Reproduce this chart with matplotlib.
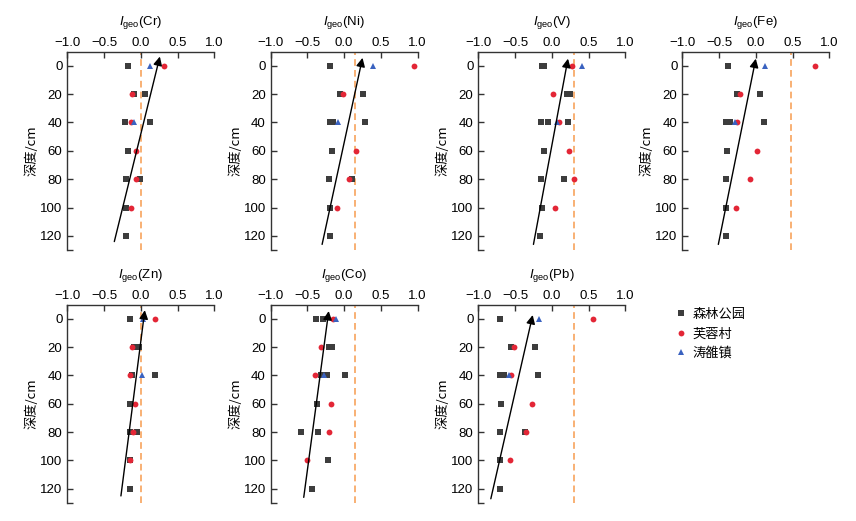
import matplotlib
matplotlib.use('Agg')
import matplotlib.pyplot as plt
import numpy as np

plt.rcParams['font.family'] = ['Liberation Sans', 'Noto Sans CJK SC', 'DejaVu Sans']
plt.rcParams['mathtext.fontset'] = 'custom'
plt.rcParams['mathtext.rm'] = 'Liberation Sans'
plt.rcParams['mathtext.it'] = 'Liberation Sans:italic'
plt.rcParams['axes.unicode_minus'] = True

# site names (legend)
sites = ['森林公园', '芙蓉村', '涛雒镇']

# (depth cm, Igeo) pairs
cr_forest = [(0, -0.18), (20, -0.09), (20, 0.06), (40, -0.21), (40, 0.13), (60, -0.18),
             (80, -0.20), (80, -0.01), (100, -0.20), (120, -0.20)]
cr_village = [(0, 0.31), (20, -0.12), (40, -0.13), (60, -0.06), (80, -0.07), (100, -0.13)]
cr_town = [(0, 0.13), (40, -0.09)]

ni_forest = [(0, -0.19), (20, -0.06), (20, 0.25), (40, -0.19), (40, -0.15), (40, 0.28),
             (60, -0.17), (80, -0.20), (80, 0.10), (100, -0.19), (120, -0.19)]
ni_village = [(0, 0.95), (20, -0.02), (60, 0.155), (80, 0.07), (100, -0.10)]
ni_town = [(0, 0.39), (40, -0.09)]

v_forest = [(0, -0.13), (0, -0.10), (20, 0.20), (20, 0.25), (40, -0.15), (40, -0.05),
            (40, 0.22), (60, -0.10), (80, -0.15), (80, 0.17), (100, -0.13), (120, -0.16)]
v_village = [(0, 0.28), (20, 0.01), (40, 0.10), (60, 0.24), (80, 0.30), (100, 0.05)]
v_town = [(0, 0.41), (40, 0.07)]

fe_forest = [(0, -0.38), (20, -0.25), (20, 0.06), (40, -0.40), (40, -0.35), (40, 0.11),
             (60, -0.39), (80, -0.40), (100, -0.40), (120, -0.40)]
fe_village = [(0, 0.81), (20, -0.22), (40, -0.26), (60, 0.02), (80, -0.08), (100, -0.27)]
fe_town = [(0, 0.12), (40, -0.28)]

zn_forest = [(0, -0.14), (20, -0.09), (20, -0.02), (40, -0.12), (40, 0.19), (60, -0.15),
             (80, -0.14), (80, -0.055), (100, -0.14), (120, -0.145)]
zn_village = [(0, 0.19), (20, -0.12), (40, -0.145), (60, -0.08), (80, -0.11), (100, -0.15)]
zn_town = [(0, 0.03), (40, 0.01)]

co_forest = [(0, -0.38), (0, -0.29), (20, -0.21), (20, -0.16), (40, -0.31), (40, -0.24),
             (40, 0.01), (60, -0.37), (80, -0.59), (80, -0.35), (100, -0.22), (120, -0.44)]
co_village = [(0, -0.145), (20, -0.31), (40, -0.395), (60, -0.18), (80, -0.21), (100, -0.51)]
co_town = [(0, -0.11), (40, -0.27)]

pb_forest = [(0, -0.70), (20, -0.55), (20, -0.23), (40, -0.70), (40, -0.65), (40, -0.19),
             (60, -0.69), (80, -0.71), (80, -0.37), (100, -0.70), (120, -0.705)]
pb_village = [(0, 0.555), (20, -0.52), (40, -0.555), (60, -0.27), (80, -0.35), (100, -0.57)]
pb_town = [(0, -0.17), (40, -0.58)]

elements = ['Cr', 'Ni', 'V', 'Fe', 'Zn', 'Co', 'Pb']
# orange dashed reference line per element
ref_line = [0.0, 0.15, 0.3, 0.48, 0.0, 0.15, 0.3]
# trend arrows: (x_tail, depth_tail, x_head, depth_head)
arrows = [(-0.36, 124, 0.26, -6.5), (-0.30, 126, 0.25, -5.6), (-0.25, 126, 0.22, -5.0),
          (-0.51, 126, 0.0, -5.0), (-0.27, 125, 0.055, -6.0), (-0.55, 126, -0.21, -5.4),
          (-0.83, 127, -0.26, -2.6)]

data = [(cr_forest, cr_village, cr_town), (ni_forest, ni_village, ni_town),
        (v_forest, v_village, v_town), (fe_forest, fe_village, fe_town),
        (zn_forest, zn_village, zn_town), (co_forest, co_village, co_town),
        (pb_forest, pb_village, pb_town)]

markers = ['s', 'o', '^']
colors = ['#3d3d3d', '#e32636', '#3a62c0']
msize = [3.8, 4.2, 4.4]

fig = plt.figure(figsize=(8.56, 5.21), dpi=100)
lefts = [0.0786, 0.3162, 0.5588, 0.7971]
w, h = 0.1717, 0.381
bottoms = [0.520, 0.0345]

spine_col = '#333333'
cjk = ['Noto Sans CJK SC', 'DejaVu Sans']
handles = []
for i, el in enumerate(elements):
    r, c = divmod(i, 4)
    ax = fig.add_axes([lefts[c], bottoms[r], w, h])
    ax.axvline(ref_line[i], color='#f7a35c', ls=(0, (4, 2.5)), lw=1.2, zorder=1)
    for k in range(3):
        pts = np.array(data[i][k])
        hnd, = ax.plot(pts[:, 1], pts[:, 0], ls='none', marker=markers[k],
                       color=colors[k], ms=msize[k], mew=0, zorder=3)
        if i == 0:
            handles.append(hnd)
    x0, y0, x1, y1 = arrows[i]
    ax.annotate('', xy=(x1, y1), xytext=(x0, y0),
                arrowprops=dict(arrowstyle='-|>', color='k', lw=1.0,
                                mutation_scale=13, shrinkA=0, shrinkB=0),
                zorder=4)
    ax.set_xlim(-1.0, 1.0)
    ax.set_ylim(130, -10)
    ax.set_xticks([-1.0, -0.5, 0.0, 0.5, 1.0])
    ax.set_yticks([0, 20, 40, 60, 80, 100, 120])
    ax.set_yticks([130], minor=True)
    ax.xaxis.tick_top()
    ax.tick_params(axis='both', direction='in', length=4, width=1, color=spine_col,
                   labelsize=9.5)
    ax.tick_params(axis='x', pad=1.5)
    ax.tick_params(axis='y', pad=3.5)
    ax.tick_params(axis='y', which='minor', direction='in', length=4, width=1, color=spine_col)
    for s in ['right', 'bottom']:
        ax.spines[s].set_visible(False)
    for s in ['left', 'top']:
        ax.spines[s].set_color(spine_col)
        ax.spines[s].set_linewidth(1)
    ax.text(0.5, 1.148, r'$I_{\rm geo}$(' + el + ')', fontsize=9.5,
            ha='center', va='center', transform=ax.transAxes)
    ax.set_ylabel('深度/cm', fontsize=9.5, family=cjk, labelpad=1)

fig.legend(handles, sites, loc='upper left', bbox_to_anchor=(0.775, 0.432),
           frameon=False, handlelength=0.8, handletextpad=0.5,
           labelspacing=0.5, prop={'family': cjk, 'size': 9.5})

fig.savefig('out.png', dpi=100)
